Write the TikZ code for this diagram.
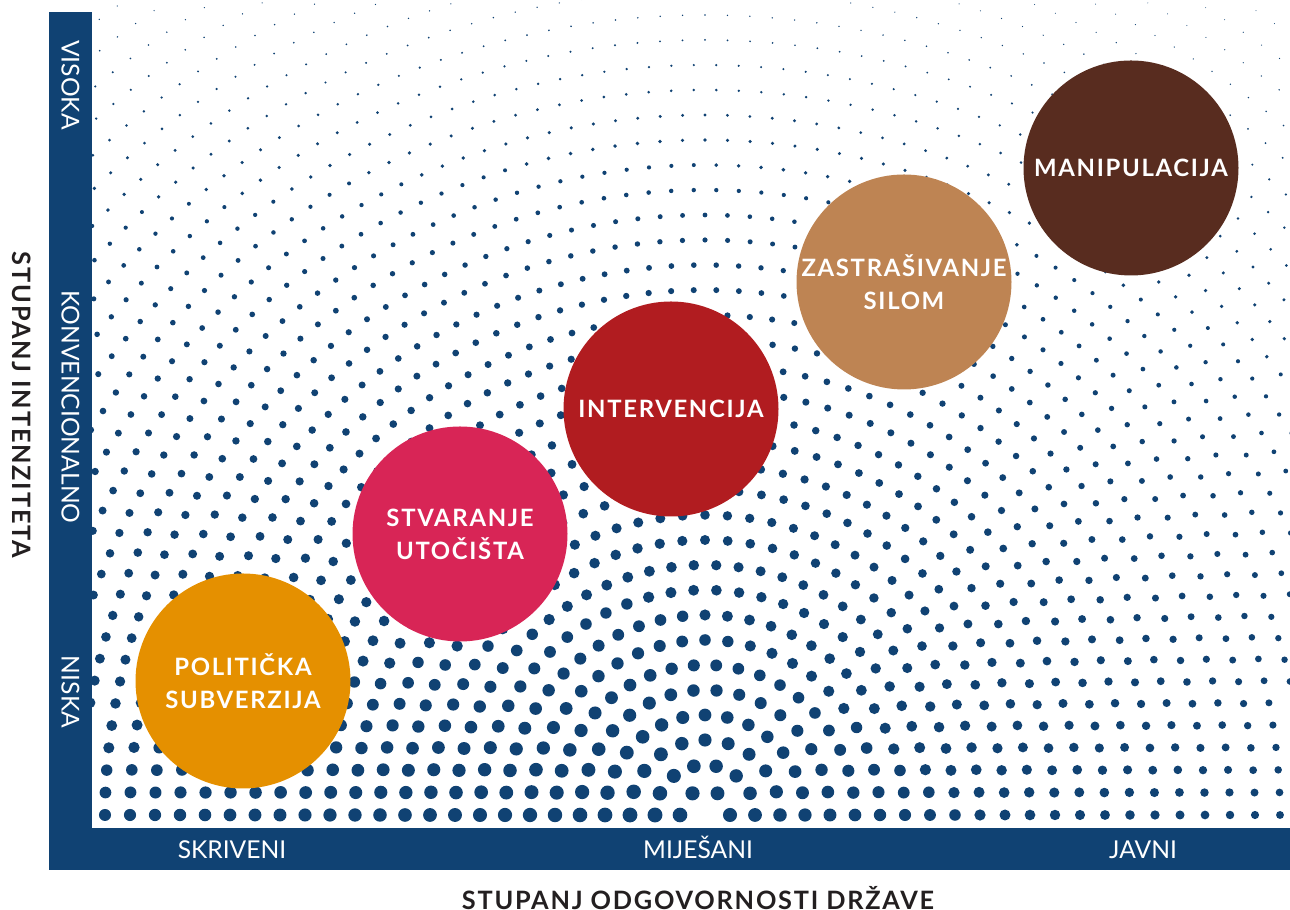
\documentclass[tikz,border=0pt]{standalone}
\usepackage{fontspec}
\setmainfont{Lato}
\newfontfamily\trackfont[LetterSpace=7]{Lato}
\definecolor{barblue}{RGB}{16,66,115}
\definecolor{titlegray}{RGB}{35,31,32}
\definecolor{polcol}{RGB}{229,144,0}
\definecolor{stvcol}{RGB}{216,37,86}
\definecolor{intcol}{RGB}{177,28,32}
\definecolor{zascol}{RGB}{190,132,83}
\definecolor{mancol}{RGB}{88,44,31}
\begin{document}
\begin{tikzpicture}[
  bar/.style={fill=barblue},
  barlabel/.style={text=white, font=\fontsize{7}{8}\selectfont},
  bubble/.style={circle, minimum size=2.15cm, inner sep=0pt, text=white, align=center,
    font=\trackfont\bfseries\fontsize{6.8}{9.4}\selectfont},
  axistitle/.style={text=titlegray, font=\trackfont\bfseries\fontsize{7.2}{8}\selectfont}]
\useasboundingbox (0,0) rectangle (12.9,9.1);
% dots on half rings round the bottom middle
\begin{scope}
\clip (0.92,0.82) rectangle (12.9,9.1);
\foreach \k in {1,...,42}{
  \pgfmathsetmacro\rr{0.25*\k}
  \pgfmathtruncatemacro\nn{round(3.1416*\rr/0.225)}
  \foreach \i in {0,...,\nn}{
    \pgfmathsetmacro\ang{\i/\nn*180}
    \pgfmathsetmacro\xx{7.05+\rr*cos(\ang)}
    \pgfmathsetmacro\yy{0.95+\rr*sin(\ang)}
    \pgfmathsetmacro\sza{7.5-1.5*max(0,6.5-\xx)/5.5-3.5*max(0,\xx-6.5)/6.2}
    \pgfmathsetmacro\szb{max(0.05,1-(\yy-0.95)/9)}
    \pgfmathsetmacro\ww{\sza*\szb*0.01}
    \fill [barblue] (\xx,\yy) circle (\ww);
  }
}
\end{scope}
% axes
\fill [bar] (0.49,0.40) rectangle (0.92,8.98);
\fill [bar] (0.49,0.40) rectangle (12.9,0.82);
\node [barlabel, anchor=base] (skr) at (2.32,0.51) {SKRIVENI};
\node [barlabel, anchor=base] (mij) at (6.98,0.51) {MIJEŠANI};
\node [barlabel, anchor=base] (jav) at (11.43,0.51) {JAVNI};
\node [barlabel, rotate=-90] (vis) at (0.705,8.25) {VISOKA};
\node [barlabel, rotate=-90] (kon) at (0.705,5.03) {KONVENCIONALNO};
\node [barlabel, rotate=-90] (nis) at (0.705,2.18) {NISKA};
\node [axistitle, rotate=-90] (inten) at (0.22,5.05) {STUPANJ INTENZITETA};
\node [axistitle] (odgov) at (6.98,0.12) {STUPANJ ODGOVORNOSTI DRŽAVE};
% bubbles
\node [bubble, fill=polcol] (pol) at (2.43,2.29) {POLITIČKA\\SUBVERZIJA};
\node [bubble, fill=stvcol] (stv) at (4.60,3.76) {STVARANJE\\UTOČIŠTA};
\node [bubble, fill=intcol] (int) at (6.71,5.01) {INTERVENCIJA};
\node [bubble, fill=zascol] (zas) at (9.04,6.28) {ZASTRAŠIVANJE\\SILOM};
\node [bubble, fill=mancol] (man) at (11.31,7.42) {MANIPULACIJA};
\end{tikzpicture}
\end{document}
